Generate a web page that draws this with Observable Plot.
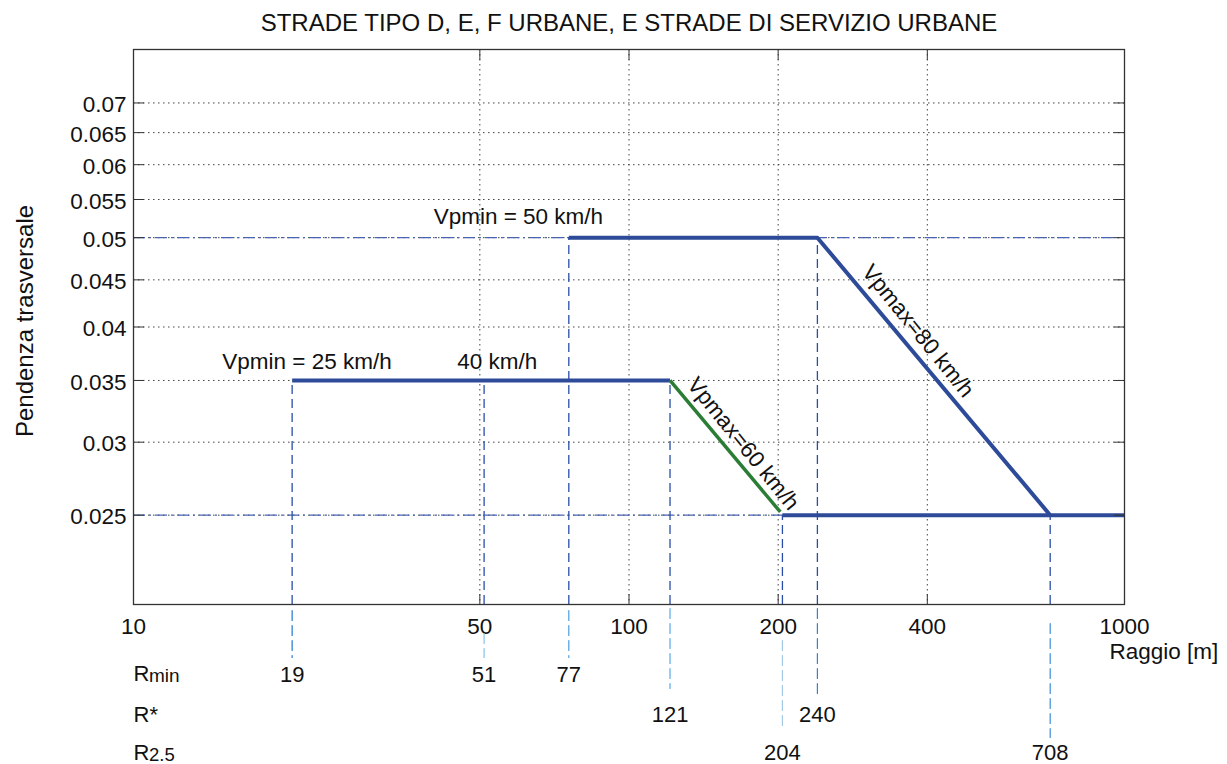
<!DOCTYPE html>
<html><head><meta charset="utf-8">
<script src="https://cdn.jsdelivr.net/npm/d3@7"></script>
<script src="https://cdn.jsdelivr.net/npm/@observablehq/plot@0.6"></script>
<style>
html,body{margin:0;padding:0;background:#fff;}
#chart svg{display:block;}
</style>
</head><body><div id="chart"></div>
<script>
// ---- data ----
const title = "STRADE TIPO D, E, F URBANE, E STRADE DI SERVIZIO URBANE";
const yLabel = "Pendenza trasversale";
const xLabel = "Raggio [m]";
const xTicks = [10, 50, 100, 200, 400, 1000];
const xGridTicks = [50, 100, 200, 400];
const yTicks = [0.025, 0.03, 0.035, 0.04, 0.045, 0.05, 0.055, 0.06, 0.065, 0.07];
const xDomain = [10, 1000];
const yDomain = [0.02, 0.08];

// curve segments (raggio, pendenza)
const seg25 = [{x: 20.9, y: 0.035}, {x: 121, y: 0.035}];
const seg60 = [{x: 121, y: 0.035}, {x: 202, y: 0.0252}];
const seg50 = [{x: 75.6, y: 0.05}, {x: 240, y: 0.05}, {x: 708, y: 0.025}];
const segBase = [{x: 204, y: 0.025}, {x: 1000, y: 0.025}];
const refLevels = [0.05, 0.025];

// reference radii per row
const rminX = [20.9, 51, 75.6], rminLabels = ["19", "51", "77"], rminLevel = [0.035, 0.035, 0.05];
const rstarX = [121, 240], rstarLabels = ["121", "240"], rstarLevel = [0.035, 0.05];
const r25X = [204, 708], r25Labels = ["204", "708"], r25Level = [0.025, 0.025];

// annotations
const annotations = [
  {text: "Vpmin = 50 km/h", x: 59.8, y: 0.0517},
  {text: "Vpmin = 25 km/h", x: 22.4, y: 0.03605},
  {text: "40 km/h", x: 54.2, y: 0.03605}
];
const slopeLabels = [
  {text: "Vpmax=60 km/h", x: 170, y: 0.02988},
  {text: "Vpmax=80 km/h", x: 383, y: 0.0396}
];

// ---- build ----
const verticals = [
  ...rminX.map((x, i) => ({x, y: rminLevel[i]})),
  ...rstarX.map((x, i) => ({x, y: rstarLevel[i]})),
  ...r25X.map((x, i) => ({x, y: r25Level[i]}))
];

const lineShape = {draw(ctx, l) { ctx.moveTo(0, 0); ctx.lineTo(0, -l); }};

// leader lines below the axis: [x, start offset, end offset, colour]
const leaders = [
  [rminX[0], 6, 53, "#1f78cc"], [rminX[1], 29, 53, "#85c0ea"], [rminX[2], 6, 53, "#4a9ddf"],
  [rstarX[0], 4, 84, "#56aae4"], [rstarX[1], 4, 89, "#2f84d4"],
  [r25X[0], 36, 123, "#a3c8e4"], [r25X[1], 19, 133, "#3a8ed8"]
];
const leaderMarks = leaders.map(([x, s, e, c]) =>
  Plot.vector([x], {x: d => d, frameAnchor: "bottom", dy: s, length: e - s, rotate: 180,
    anchor: "start", shape: lineShape, stroke: c, strokeWidth: 1.2, strokeDasharray: "10,5", fill: "none"}));

const rowText = (xs, labels, dy) => Plot.text(xs, {x: d => d, text: (d, i) => labels[i], frameAnchor: "bottom",
  dy, lineAnchor: "bottom", fontSize: 22, fill: "#111"});

const tickVec = (data, ch, anchor, rotate) => Plot.vector(data, {[ch]: d => d, frameAnchor: anchor, length: 10,
  rotate, anchor: "start", shape: lineShape, stroke: "#333", strokeWidth: 1, fill: "none"});

const blue = "#2d4b98";
const chart = Plot.plot({
  width: 1227, height: 764,
  marginLeft: 133, marginRight: 103, marginTop: 49, marginBottom: 160,
  x: {type: "log", domain: xDomain},
  y: {type: "log", domain: yDomain},
  style: {fontFamily: "'Liberation Sans', Arial, sans-serif", fontSize: "22.5px", color: "#111", background: "#fff", overflow: "visible"},
  marks: [
    Plot.gridX(xGridTicks, {stroke: "#444", strokeOpacity: 1, strokeDasharray: "1.5,3.5"}),
    Plot.gridY(yTicks, {stroke: "#444", strokeOpacity: 1, strokeDasharray: "1.5,3.5"}),
    Plot.ruleY(refLevels, {stroke: "#4a64b2", strokeWidth: 1.4, strokeDasharray: "12,4,2,4"}),
    Plot.ruleX(verticals, {x: "x", y1: yDomain[0], y2: "y", stroke: "#2a4ea8", strokeWidth: 1.3, strokeDasharray: "9,5"}),
    Plot.line(seg25, {x: "x", y: "y", stroke: blue, strokeWidth: 4, strokeLinecap: "butt"}),
    Plot.line(seg50, {x: "x", y: "y", stroke: blue, strokeWidth: 4, strokeLinecap: "butt"}),
    Plot.line(segBase, {x: "x", y: "y", stroke: blue, strokeWidth: 4, strokeLinecap: "butt"}),
    Plot.line(seg60, {x: "x", y: "y", stroke: "#2b7d35", strokeWidth: 3.5, strokeLinecap: "butt"}),
    Plot.frame({stroke: "#333", strokeWidth: 1.3}),
    tickVec(xTicks, "x", "bottom", 0),
    tickVec(xTicks, "x", "top", 180),
    tickVec(yTicks, "y", "left", 90),
    tickVec(yTicks, "y", "right", -90),
    Plot.axisX(xTicks, {tickSize: 0, tickPadding: 14, tickFormat: d => String(d), label: null, fontSize: 22.5}),
    Plot.axisY(yTicks, {tickSize: 0, tickPadding: 7, tickFormat: d => String(d), label: null, fontSize: 22.5, dy: 2}),
    ...leaderMarks,
    Plot.text(annotations, {x: "x", y: "y", text: "text", lineAnchor: "bottom", fontSize: 22.5, fill: "#111"}),
    Plot.text(slopeLabels, {x: "x", y: "y", text: "text", rotate: 51, lineAnchor: "middle", fontSize: 22.5, fill: "#111"}),
    Plot.text([title], {frameAnchor: "top", dy: -19, lineAnchor: "bottom", fontSize: 24, fill: "#111"}),
    Plot.text([yLabel], {frameAnchor: "left", textAnchor: "middle", dx: -108, dy: -6, rotate: -90, lineAnchor: "middle", fontSize: 24, fill: "#111"}),
    Plot.text([xLabel], {frameAnchor: "bottom-right", textAnchor: "start", dx: -15, dy: 54, lineAnchor: "bottom", fontSize: 22.5, fill: "#111"}),
    // row titles
    Plot.text(["R"], {frameAnchor: "bottom-left", textAnchor: "start", dy: 76, lineAnchor: "bottom", fontSize: 22, fill: "#111"}),
    Plot.text(["min"], {frameAnchor: "bottom-left", textAnchor: "start", dx: 15.5, dy: 77, lineAnchor: "bottom", fontSize: 19, fill: "#111"}),
    Plot.text(["R*"], {frameAnchor: "bottom-left", textAnchor: "start", dy: 117, lineAnchor: "bottom", fontSize: 22, fill: "#111"}),
    Plot.text(["R"], {frameAnchor: "bottom-left", textAnchor: "start", dy: 155, lineAnchor: "bottom", fontSize: 22, fill: "#111"}),
    Plot.text(["2.5"], {frameAnchor: "bottom-left", textAnchor: "start", dx: 15.5, dy: 156, lineAnchor: "bottom", fontSize: 18.5, fill: "#111"}),
    rowText(rminX, rminLabels, 77),
    rowText(rstarX, rstarLabels, 117),
    rowText(r25X, r25Labels, 155)
  ]
});
document.getElementById("chart").appendChild(chart);
</script>
</body></html>
